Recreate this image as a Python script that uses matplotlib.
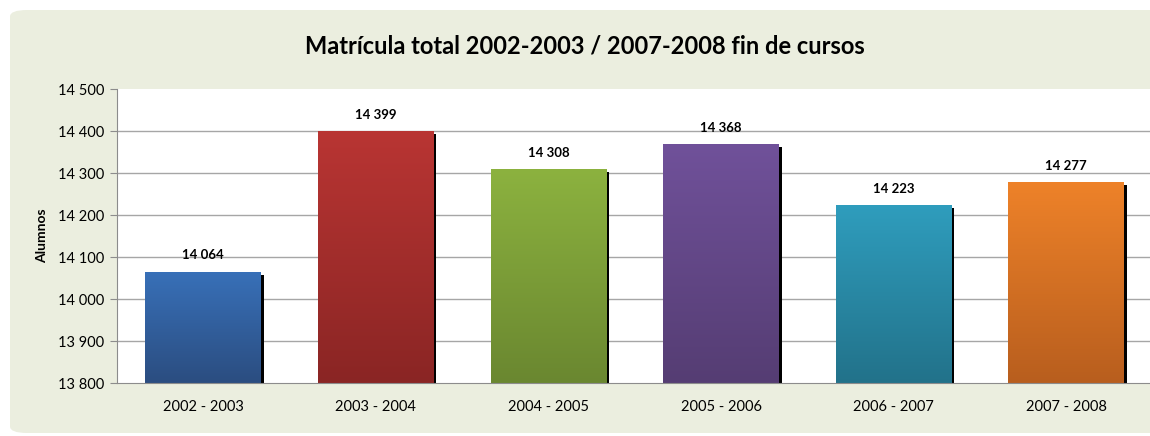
import matplotlib.pyplot as plt
import numpy as np
from matplotlib.colors import LinearSegmentedColormap
from matplotlib.patches import FancyBboxPatch
from matplotlib.ticker import FuncFormatter

plt.rcParams['font.family'] = ['Lato', 'DejaVu Sans']

cursos = ['2002 - 2003', '2003 - 2004', '2004 - 2005', '2005 - 2006', '2006 - 2007', '2007 - 2008']
alumnos = [14064, 14399, 14308, 14368, 14223, 14277]
# colour at the top and at the bottom of each bar
top_colors = ['#3870b8', '#b93533', '#8cb23f', '#70519a', '#2f9dbd', '#ee8229']
bottom_colors = ['#2b4d80', '#8a2524', '#6a8730', '#553d73', '#22728a', '#b85e1e']
yticks = [13800, 13900, 14000, 14100, 14200, 14300, 14400, 14500]

fig = plt.figure(figsize=(11.5, 4.36), dpi=100, facecolor='white')

# rounded panel behind everything
panel = FancyBboxPatch((10 / 1150, 3 / 436), 1.2, 423 / 436,
                       boxstyle='round,pad=0,rounding_size=0.015',
                       transform=fig.transFigure, facecolor='#ebeedf',
                       edgecolor='none', zorder=-5)
fig.patches.append(panel)

ax = fig.add_axes([117 / 1150, 53 / 436, 1035.6 / 1150, 294 / 436])
ax.set_zorder(2)
ax.set_facecolor('white')

w = 0.672
grad = np.linspace(0, 1, 256).reshape(-1, 1)
for i, v in enumerate(alumnos):
    # thin dark shadow on the right side
    ax.bar(i + 0.015, v - 13800 - 6, width=w, bottom=13800, color='black', zorder=2)
    cmap = LinearSegmentedColormap.from_list('g', [bottom_colors[i], top_colors[i]])
    ax.imshow(grad, cmap=cmap, aspect='auto', origin='lower',
              extent=[i - w / 2, i + w / 2, 13800, v], zorder=3)
    ax.annotate(f'{v:,}'.replace(',', ' '), (i, v), xytext=(0, 12),
                textcoords='offset points', ha='center', va='center',
                fontsize=9.5, fontweight='bold', zorder=4)

ax.set_xlim(-0.5, 5.5)
ax.set_ylim(13800, 14500)
ax.set_xticks(range(len(cursos)))
ax.set_xticklabels(cursos, fontsize=10.5)
ax.set_yticks(yticks)
ax.yaxis.set_major_formatter(FuncFormatter(lambda y, p: f'{int(y):,}'.replace(',', ' ')))
ax.tick_params(axis='y', labelsize=10.5, length=5, color='#8c8c8c', pad=4)
ax.tick_params(axis='x', length=0, pad=12)

for y in yticks[1:-1]:
    ax.axhline(y, color='#a6a6a6', lw=1, zorder=1)

for s in ['top', 'right']:
    ax.spines[s].set_visible(False)
ax.spines['left'].set_color('#8c8c8c')
ax.spines['bottom'].set_color('#8c8c8c')
ax.spines['bottom'].set_zorder(5)

ax.set_ylabel('Alumnos', fontsize=10, fontweight='bold', labelpad=7)
fig.text(585 / 1150, 1 - 46 / 436, 'Matrícula total 2002-2003 / 2007-2008 fin de cursos',
         ha='center', va='center', fontsize=17, fontweight='bold')

fig.savefig('out.png', dpi=100, facecolor='white')
